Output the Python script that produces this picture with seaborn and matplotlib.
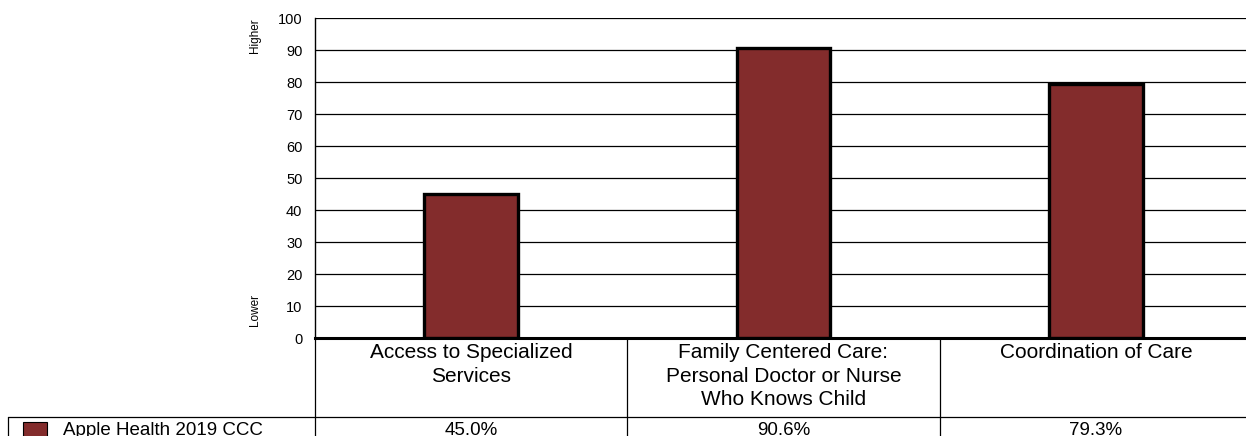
import matplotlib
matplotlib.use("Agg")
import matplotlib.pyplot as plt
import matplotlib.transforms as mtransforms
import seaborn as sns
import pandas as pd

# Chart data
categories = [
    "Access to Specialized\nServices",
    "Family Centered Care:\nPersonal Doctor or Nurse\nWho Knows Child",
    "Coordination of Care",
]
series_name = "Apple Health 2019 CCC"
values = [45.0, 90.6, 79.3]
y_ticks = [0, 10, 20, 30, 40, 50, 60, 70, 80, 90, 100]

bar_color = "#832C2C"

sns.set_theme(style="white")
plt.rcParams["font.family"] = ["Liberation Sans", "DejaVu Sans"]

W, H = 1246, 436
fig = plt.figure(figsize=(W / 100, H / 100), dpi=100)

def fy(py):
    """Convert a pixel row (from top) to figure fraction."""
    return 1 - py / H

left_px, right_px, top_px, bottom_px = 315, 1252, 18, 338
ax = fig.add_axes([left_px / W, fy(bottom_px), (right_px - left_px) / W,
                   (bottom_px - top_px) / H])

df = pd.DataFrame({"category": categories, "value": values})
sns.barplot(data=df, x="category", y="value", color=bar_color, saturation=1,
            width=0.3, edgecolor="black", linewidth=2.4, ax=ax, zorder=3)

ax.set_ylim(0, 100)
ax.set_xlim(-0.5, len(categories) - 0.5)
ax.set_yticks(y_ticks)
ax.set_yticklabels([str(t) for t in y_ticks], fontsize=10.5, color="black")
ax.tick_params(axis="y", length=0, pad=9)
ax.set_xticks([])
ax.set_xlabel("")
ax.set_ylabel("")

for t in y_ticks[1:]:
    ax.axhline(t, color="black", linewidth=0.9, zorder=1)

for side in ["top", "right"]:
    ax.spines[side].set_visible(False)
ax.spines["left"].set_color("black")
ax.spines["left"].set_linewidth(1.0)
ax.spines["bottom"].set_color("black")
ax.spines["bottom"].set_linewidth(2.2)
ax.spines["bottom"].set_zorder(4)

# Higher / Lower markers along the value axis
fig.text(255 / W, fy(36), "Higher", rotation=90, ha="center", va="center",
         fontsize=8.5, color="black")
fig.text(255 / W, fy(310), "Lower", rotation=90, ha="center", va="center",
         fontsize=8.5, color="black")

# Data table beneath the plot
blend = mtransforms.blended_transform_factory(ax.transData, fig.transFigure)
row_sep_px = 417
n = len(categories)
for b in [-0.5 + i for i in range(n + 1)]:
    ax.plot([b, b], [fy(bottom_px), 0], transform=blend, color="black",
            linewidth=0.9, clip_on=False)
line = plt.Line2D([8 / W, 1.0], [fy(row_sep_px), fy(row_sep_px)],
                  transform=fig.transFigure, color="black", linewidth=0.9)
fig.add_artist(line)
line2 = plt.Line2D([8 / W, 8 / W], [fy(row_sep_px), 0],
                   transform=fig.transFigure, color="black", linewidth=0.9)
fig.add_artist(line2)

for i, (cat, v) in enumerate(zip(categories, values)):
    ax.text(i, fy(343.5), cat, transform=blend, ha="center", va="top",
            fontsize=15, linespacing=1.28, color="black")
    ax.text(i, fy(421.5), f"{v:.1f}%", transform=blend, ha="center", va="top",
            fontsize=13.5, color="black")

# Legend swatch and series name in the table row
swatch = plt.Rectangle((23 / W, fy(437)), 24 / W, 15 / H,
                       transform=fig.transFigure, facecolor=bar_color,
                       edgecolor="black", linewidth=0.8)
fig.add_artist(swatch)
fig.text(63 / W, fy(421.5), series_name, ha="left", va="top", fontsize=13.5,
         color="black")

fig.savefig("out.png", dpi=100)
